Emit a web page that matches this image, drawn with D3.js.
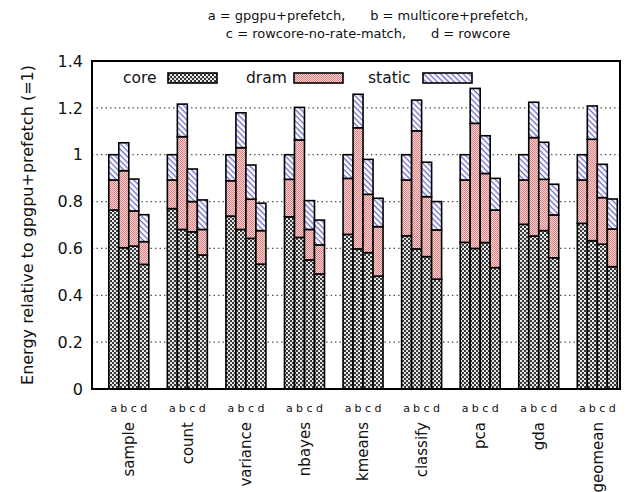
<!DOCTYPE html>
<style>
  body { margin: 0; background: #fff; }
  text { font-family: "DejaVu Sans", sans-serif; fill: #111; }
</style>
<svg id='chart' width='627' height='492'></svg>
<script src="https://d3js.org/d3.v7.min.js"></script>
<script>
var categories = ['sample', 'count', 'variance', 'nbayes', 'kmeans', 'classify', 'pca', 'gda', 'geomean'],
    configs = ['a', 'b', 'c', 'd'],
    parts = ['core', 'dram', 'static'],
    yTicks = [0, 0.2, 0.4, 0.6, 0.8, 1, 1.2, 1.4]

// energy split per benchmark, one row per config a..d
var core = [
  [0.764, 0.603, 0.610, 0.532],
  [0.770, 0.681, 0.671, 0.572],
  [0.738, 0.681, 0.643, 0.533],
  [0.735, 0.647, 0.551, 0.491],
  [0.660, 0.598, 0.582, 0.482],
  [0.654, 0.598, 0.565, 0.469],
  [0.626, 0.600, 0.625, 0.518],
  [0.703, 0.653, 0.676, 0.560],
  [0.707, 0.633, 0.618, 0.522]
]
var dram = [
  [0.128, 0.329, 0.150, 0.097],
  [0.122, 0.396, 0.129, 0.109],
  [0.151, 0.349, 0.167, 0.143],
  [0.160, 0.416, 0.130, 0.124],
  [0.239, 0.517, 0.249, 0.211],
  [0.238, 0.504, 0.256, 0.210],
  [0.266, 0.534, 0.295, 0.246],
  [0.189, 0.420, 0.219, 0.183],
  [0.185, 0.433, 0.199, 0.161]
]
var stat = [
  [0.108, 0.119, 0.136, 0.115],
  [0.108, 0.139, 0.139, 0.126],
  [0.111, 0.149, 0.146, 0.117],
  [0.105, 0.139, 0.123, 0.106],
  [0.101, 0.143, 0.149, 0.121],
  [0.108, 0.131, 0.147, 0.121],
  [0.108, 0.149, 0.161, 0.135],
  [0.108, 0.151, 0.158, 0.131],
  [0.108, 0.142, 0.142, 0.128]
]

var frame = {left: 92, right: 620, top: 61, bottom: 389}

var svg = d3.select('#chart')
var defs = svg.append('defs')

// fill patterns, gnuplot style
var pCore = defs.append('pattern').attr('id', 'p-core')
  .attr('patternUnits', 'userSpaceOnUse').attr('width', 4).attr('height', 4)
pCore.append('rect').attr('width', 4).attr('height', 4).attr('fill', '#383838')
pCore.append('circle').attr('cx', 1).attr('cy', 1).attr('r', 1.05).attr('fill', '#fff')
pCore.append('circle').attr('cx', 3).attr('cy', 3).attr('r', 1.05).attr('fill', '#fff')

var pDram = defs.append('pattern').attr('id', 'p-dram')
  .attr('patternUnits', 'userSpaceOnUse').attr('width', 2).attr('height', 2)
pDram.append('rect').attr('width', 2).attr('height', 2).attr('fill', '#f6d2d2')
pDram.append('rect').attr('width', 1).attr('height', 1).attr('fill', '#d98484')
pDram.append('rect').attr('x', 1).attr('y', 1).attr('width', 1).attr('height', 1).attr('fill', '#d98484')

var pStat = defs.append('pattern').attr('id', 'p-static')
  .attr('patternUnits', 'userSpaceOnUse').attr('width', 4).attr('height', 4)
  .attr('patternTransform', 'rotate(45)')
pStat.append('rect').attr('width', 4).attr('height', 4).attr('fill', '#fff')
pStat.append('rect').attr('width', 4).attr('height', 1.3).attr('fill', '#6a6ad0')

var fills = {core: 'url(#p-core)', dram: 'url(#p-dram)', static: 'url(#p-static)'}

var y = d3.scaleLinear().domain([0, 1.4]).range([frame.bottom, frame.top])

var x0 = d3.scaleBand().domain(categories)
  .range([99.5, 626.6]).paddingInner(0.317).paddingOuter(0.1585)
var x1 = d3.scaleBand().domain(configs).range([0, x0.bandwidth()])

// grid
svg.append('g').selectAll('line')
  .data(yTicks.slice(1, -1)).enter().append('line')
  .attr('x1', frame.left).attr('x2', frame.right)
  .attr('y1', (d) => y(d)).attr('y2', (d) => y(d))
  .attr('stroke', '#555').attr('stroke-width', 1.2).attr('stroke-dasharray', '1.5,3')

// y tick labels
svg.append('g').selectAll('text')
  .data(yTicks).enter().append('text')
  .attr('x', 83).attr('y', (d) => y(d)).attr('dy', '0.36em')
  .attr('text-anchor', 'end').attr('font-size', 16)
  .text((d) => d3.format('~g')(d))

svg.append('text')
  .attr('transform', `translate(33, ${(frame.top + frame.bottom) / 2}) rotate(-90)`)
  .attr('text-anchor', 'middle').attr('font-size', 16)
  .text('Energy relative to gpgpu+prefetch (=1)')

// stacked bars
var rows = []
categories.forEach((c, i) => {
  configs.forEach((k, j) => {
    var base = 0
    var vals = {core: core[i][j], dram: dram[i][j], static: stat[i][j]}
    parts.forEach((p) => {
      rows.push({cat: c, cfg: k, part: p, y0: base, y1: base + vals[p]})
      base += vals[p]
    })
  })
})

svg.append('g').selectAll('rect')
  .data(rows).enter().append('rect')
  .attr('x', (d) => x0(d.cat) + x1(d.cfg))
  .attr('width', x1.bandwidth())
  .attr('y', (d) => y(d.y1))
  .attr('height', (d) => y(d.y0) - y(d.y1))
  .attr('fill', (d) => fills[d.part])
  .attr('stroke', '#000').attr('stroke-width', 1.6)

// frame
svg.append('rect')
  .attr('x', frame.left).attr('y', frame.top)
  .attr('width', frame.right - frame.left).attr('height', frame.bottom - frame.top)
  .attr('fill', 'none').attr('stroke', '#000').attr('stroke-width', 2)

// a b c d letters
var letters = []
categories.forEach((c) => configs.forEach((k) => letters.push({cat: c, cfg: k})))
svg.append('g').selectAll('text')
  .data(letters).enter().append('text')
  .attr('x', (d) => x0(d.cat) + x1(d.cfg) + x1.bandwidth() / 2)
  .attr('y', 412).attr('text-anchor', 'middle').attr('font-size', 11)
  .text((d) => d.cfg)

// benchmark names
svg.append('g').selectAll('text')
  .data(categories).enter().append('text')
  .attr('transform', (d) => `translate(${x0(d) + x0.bandwidth() / 2}, 422) rotate(-90)`)
  .attr('text-anchor', 'end').attr('dy', '0.35em').attr('font-size', 15)
  .text((d) => d)

// legend
var legendText = {core: 123, dram: 246, static: 368},
    legendBox = {core: 168, dram: 294, static: 423}
var legend = svg.append('g').selectAll('g')
  .data(parts).enter().append('g')
legend.append('text')
  .attr('x', (d) => legendText[d]).attr('y', 83).attr('font-size', 15.5)
  .text((d) => d)
legend.append('rect')
  .attr('x', (d) => legendBox[d])
  .attr('y', 73).attr('width', 49).attr('height', 10)
  .attr('fill', (d) => fills[d]).attr('stroke', '#000').attr('stroke-width', 1.6)

// title
var title = svg.append('text').attr('text-anchor', 'middle').attr('font-size', 13)
  .style('white-space', 'pre')
title.append('tspan').attr('x', 368).attr('y', 20)
  .text('a = gpgpu+prefetch,      b = multicore+prefetch,')
title.append('tspan').attr('x', 368).attr('y', 38)
  .text('c = rowcore-no-rate-match,      d = rowcore')
</script>
